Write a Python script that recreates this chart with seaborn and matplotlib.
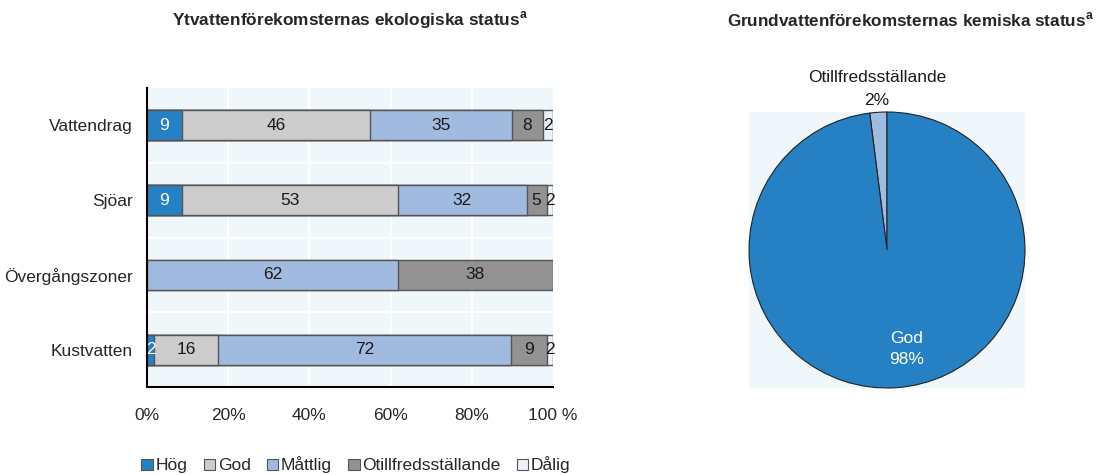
import matplotlib
matplotlib.use("Agg")
import matplotlib.pyplot as plt
import seaborn as sns
import pandas as pd
import numpy as np
from matplotlib.patches import Patch

# ---- data ----
categories = ["Vattendrag", "Sjöar", "Övergångszoner", "Kustvatten"]
statuses = ["Hög", "God", "Måttlig", "Otillfredsställande", "Dålig"]
hog = [8.6, 8.6, 0.0, 1.7]
god = [46.4, 53.1, 0.0, 15.9]
mattlig = [34.8, 31.8, 61.8, 72.0]
otill = [7.8, 4.9, 38.2, 8.8]
dalig = [2.4, 1.6, 0.0, 1.6]
xtick_vals = [0, 20, 40, 60, 80, 100]
xtick_labels = ["0%", "20%", "40%", "60%", "80%", "100 %"]

pie_labels = ["Otillfredsställande", "God"]
pie_values = [2, 98]

bar_colors = ["#2581c4", "#cccccc", "#a1bae0", "#929292", "#eef3fb"]
pie_colors = ["#a1bae0", "#2581c4"]
bg = "#f0f7fa"

sns.set_theme(style="white")
plt.rcParams["font.family"] = ["Liberation Sans", "DejaVu Sans"]
FS = 12.5

fig = plt.figure(figsize=(10.97, 4.75), dpi=100)
ax = fig.add_axes([147 / 1097, 1 - 387 / 475, 406 / 1097, 299 / 475])
ax.set_facecolor(bg)

series = [hog, god, mattlig, otill, dalig]
vals = np.array(series, dtype=float)  # shape (5, 4)
cum = np.cumsum(vals, axis=0)

# draw cumulative bars from last to first so earlier segments overlay
for k in range(len(statuses) - 1, -1, -1):
    xs = [cum[k, i] if vals[k, i] > 0 else np.nan for i in range(len(categories))]
    df = pd.DataFrame({"cat": categories, "x": xs})
    sns.barplot(data=df, x="x", y="cat", order=categories, color=bar_colors[k],
                saturation=1, width=0.4, edgecolor="#555555", linewidth=1.0,
                orient="h", ax=ax, errorbar=None)

for k in range(len(statuses)):
    for i in range(len(categories)):
        v = vals[k, i]
        if v <= 0:
            continue
        ax.text(cum[k, i] - v / 2, i, f"{round(v):d}", ha="center", va="center",
                fontsize=FS, color="white" if k == 0 else "#1a1a1a")

ax.set_xlim(0, 100)
ax.set_ylim(len(categories) - 0.5, -0.5)
ax.set_xlabel("")
ax.set_ylabel("")
ax.set_xticks(xtick_vals)
ax.set_xticklabels(xtick_labels, fontsize=FS)
ax.tick_params(axis="x", length=0, pad=15)
ax.tick_params(axis="y", length=0, labelsize=FS, pad=10)
ax.set_yticks(range(len(categories)))
ax.set_yticklabels(categories)
ax.set_yticks([-0.5, 0.5, 1.5, 2.5], minor=True)
ax.tick_params(axis="y", which="minor", direction="in", length=5, width=1, color="black")
ax.set_axisbelow(True)
for xv in [20, 40, 60, 80]:
    ax.axvline(xv, color="white", lw=1.5, zorder=0)
for yv in [0.5, 1.5, 2.5]:
    ax.axhline(yv, color="white", lw=1.5, zorder=0)
for s in ["top", "right"]:
    ax.spines[s].set_visible(False)
ax.spines["left"].set_color("black")
ax.spines["left"].set_linewidth(1.5)
ax.spines["bottom"].set_color("black")
ax.spines["bottom"].set_linewidth(1.5)

fig.text(350 / 1097, 1 - 20 / 475,
         r"Ytvattenförekomsternas ekologiska status$^{\mathregular{a}}$",
         ha="center", va="center", fontsize=12.4, fontweight="bold")

handles = [Patch(facecolor=c, edgecolor="#555555", linewidth=0.8) for c in bar_colors]
fig.legend(handles, statuses, loc="center", bbox_to_anchor=(356 / 1097, 1 - 465 / 475),
           ncol=5, frameon=False, fontsize=FS, handlelength=0.65, handleheight=0.65,
           handletextpad=0.15, columnspacing=0.95, borderaxespad=0)

# ---- pie ----
pax = fig.add_axes([748 / 1097, 1 - 388 / 475, 278 / 1097, 276 / 475])
pax.set_facecolor(bg)
wedges, _ = pax.pie(pie_values, colors=pie_colors, startangle=90, counterclock=True,
                    radius=1.0, frame=True,
                    wedgeprops=dict(edgecolor="#222222", linewidth=0.8))
pax.set_xlim(-1.0, 1.0)
pax.set_ylim(-1.0, 1.0)
pax.set_aspect("equal")
pax.set_xticks([])
pax.set_yticks([])
for s in pax.spines.values():
    s.set_visible(False)

total = sum(pie_values)
for w, lab, v in zip(wedges, pie_labels, pie_values):
    mid = np.deg2rad((w.theta1 + w.theta2) / 2)
    if v / total < 0.1:
        x, y = 1.17 * np.cos(mid), 1.17 * np.sin(mid)
        col = "#1a1a1a"
        ls = 1.65
    else:
        x, y = 0.72 * np.cos(mid) + 0.1, 0.72 * np.sin(mid)
        col = "white"
        ls = 1.5
    pax.text(x, y, f"{lab}\n{v}%", ha="center", va="center",
             fontsize=FS, color=col, linespacing=ls, clip_on=False)

fig.text(910 / 1097, 1 - 20 / 475,
         r"Grundvattenförekomsternas kemiska status$^{\mathregular{a}}$",
         ha="center", va="center", fontsize=12.3, fontweight="bold")

fig.savefig("out.png", dpi=100)
